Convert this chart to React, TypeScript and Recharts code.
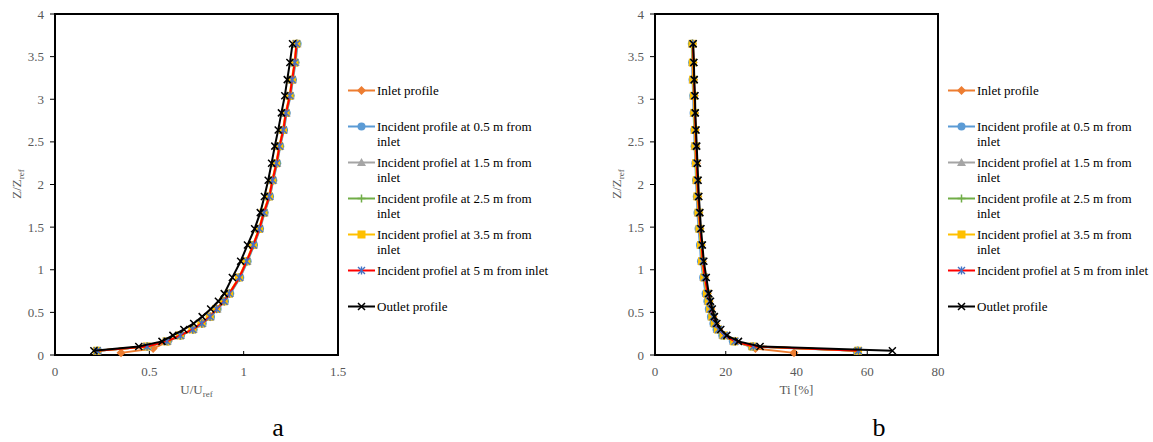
import React from "react";
import {
    ScatterChart,
    Scatter,
    XAxis,
    YAxis,
    ReferenceArea,
    Legend,
} from "recharts";

// heights Z/Zref shared by the incident and outlet profiles
const Z_LEVELS = [0.05, 0.10, 0.16, 0.23, 0.30, 0.37, 0.45, 0.54, 0.63, 0.72, 0.91, 1.10, 1.29, 1.48, 1.67, 1.86, 2.05, 2.25, 2.45, 2.64, 2.84, 3.04, 3.23, 3.43, 3.65];
const INLET_Z = [0.025, 0.075, 0.16, 0.23, 0.30, 0.37, 0.45, 0.54, 0.63, 0.72, 0.91, 1.10, 1.29, 1.48, 1.67, 1.86, 2.05, 2.25, 2.45, 2.64, 2.84, 3.04, 3.23, 3.43, 3.65];

// chart a: U/Uref
const U_INLET = [0.35, 0.52, 0.600, 0.666, 0.731, 0.779, 0.823, 0.858, 0.897, 0.925, 0.978, 1.017, 1.052, 1.084, 1.108, 1.137, 1.154, 1.175, 1.191, 1.211, 1.225, 1.246, 1.258, 1.272, 1.281];
const U_05 = [0.228, 0.492, 0.598, 0.668, 0.735, 0.783, 0.827, 0.862, 0.901, 0.929, 0.982, 1.021, 1.055, 1.087, 1.111, 1.140, 1.157, 1.178, 1.194, 1.214, 1.228, 1.249, 1.261, 1.275, 1.286];
const U_15 = [0.226, 0.490, 0.595, 0.666, 0.732, 0.780, 0.824, 0.859, 0.898, 0.926, 0.979, 1.018, 1.053, 1.085, 1.109, 1.138, 1.155, 1.176, 1.192, 1.212, 1.226, 1.247, 1.259, 1.273, 1.283];
const U_25 = [0.225, 0.489, 0.594, 0.665, 0.731, 0.779, 0.823, 0.858, 0.897, 0.925, 0.978, 1.017, 1.052, 1.084, 1.108, 1.137, 1.154, 1.175, 1.191, 1.211, 1.225, 1.246, 1.258, 1.272, 1.282];
const U_35 = [0.222, 0.486, 0.591, 0.662, 0.728, 0.776, 0.820, 0.855, 0.894, 0.922, 0.975, 1.014, 1.049, 1.081, 1.105, 1.134, 1.151, 1.172, 1.188, 1.208, 1.222, 1.243, 1.255, 1.269, 1.279];
const U_5 = [0.224, 0.488, 0.593, 0.664, 0.730, 0.778, 0.822, 0.857, 0.896, 0.924, 0.977, 1.016, 1.051, 1.083, 1.107, 1.136, 1.153, 1.174, 1.190, 1.210, 1.224, 1.245, 1.257, 1.271, 1.280];
const U_OUT = [0.206, 0.444, 0.567, 0.625, 0.683, 0.735, 0.780, 0.825, 0.866, 0.897, 0.940, 0.984, 1.020, 1.058, 1.088, 1.110, 1.130, 1.148, 1.165, 1.183, 1.200, 1.218, 1.231, 1.245, 1.259];

// chart b: Ti [%]
const TI_INLET = [39.3, 28.4, 22.6, 19.6, 18.0, 17.1, 16.4, 15.8, 15.3, 14.8, 14.0, 13.4, 13.1, 12.7, 12.4, 12.1, 11.9, 11.7, 11.5, 11.4, 11.2, 11.1, 10.9, 10.8, 10.6];
const TI_05 = [57.0, 27.3, 22.0, 19.0, 17.4, 16.5, 15.8, 15.2, 14.8, 14.3, 13.6, 13.0, 12.7, 12.3, 12.0, 11.8, 11.6, 11.4, 11.2, 11.1, 10.9, 10.8, 10.6, 10.5, 10.4];
const TI_15 = [57.2, 27.5, 22.2, 19.2, 17.6, 16.7, 16.0, 15.4, 15.0, 14.5, 13.8, 13.2, 12.9, 12.5, 12.2, 11.9, 11.7, 11.5, 11.3, 11.2, 11.0, 10.9, 10.7, 10.6, 10.5];
const TI_25 = [57.3, 27.6, 22.3, 19.3, 17.7, 16.8, 16.1, 15.5, 15.1, 14.6, 13.9, 13.3, 13.0, 12.6, 12.3, 12.0, 11.8, 11.6, 11.4, 11.3, 11.1, 11.0, 10.8, 10.7, 10.5];
const TI_35 = [57.4, 27.6, 22.4, 19.4, 17.8, 16.9, 16.2, 15.6, 15.2, 14.7, 13.9, 13.3, 13.0, 12.6, 12.3, 12.0, 11.8, 11.6, 11.4, 11.3, 11.1, 11.0, 10.8, 10.7, 10.6];
const TI_5 = [57.5, 27.8, 22.6, 19.6, 18.0, 17.1, 16.4, 15.8, 15.4, 14.9, 14.1, 13.5, 13.2, 12.8, 12.5, 12.2, 12.0, 11.8, 11.6, 11.5, 11.3, 11.2, 11.0, 10.9, 10.7];
const TI_OUT = [67.1, 29.7, 23.6, 20.3, 18.6, 17.5, 16.8, 16.2, 15.7, 15.2, 14.5, 13.8, 13.4, 13.0, 12.7, 12.4, 12.2, 12.0, 11.8, 11.6, 11.4, 11.3, 11.1, 11.0, 10.8];

const Y_TICKS = [0, 0.5, 1, 1.5, 2, 2.5, 3, 3.5, 4];
const U_TICKS = [0, 0.5, 1, 1.5];
const TI_TICKS = [0, 20, 40, 60, 80];

const SERIES_NAMES = [
    "Inlet profile",
    "Incident profile at 0.5 m from inlet",
    "Incident profiel at 1.5 m from inlet",
    "Incident profile at 2.5 m from inlet",
    "Incident profiel at 3.5 m from inlet",
    "Incident profiel at 5 m from inlet",
    "Outlet profile",
];
const LEGEND_LINES = [
    ["Inlet profile"],
    ["Incident profile at 0.5 m from", "inlet"],
    ["Incident profiel at 1.5 m from", "inlet"],
    ["Incident profile at 2.5 m from", "inlet"],
    ["Incident profiel at 3.5 m from", "inlet"],
    ["Incident profiel at 5 m from inlet"],
    ["Outlet profile"],
];

const STYLES = [
    { color: "#ED7D31", marker: "diamond", markerColor: "#ED7D31" },
    { color: "#5B9BD5", marker: "circle", markerColor: "#5B9BD5" },
    { color: "#A5A5A5", marker: "triangle", markerColor: "#A5A5A5" },
    { color: "#70AD47", marker: "plus", markerColor: "#70AD47" },
    { color: "#FFC000", marker: "square", markerColor: "#FFC000" },
    { color: "#FF0000", marker: "star", markerColor: "#4472C4" },
    { color: "#000000", marker: "cross", markerColor: "#000000" },
];

const FONT = "'Liberation Serif', 'Times New Roman', serif";
const TICK_COLOR = "#595959";
const PLOT_BOTTOM = 355;
const textStyle = { fontFamily: FONT, fontSize: 13 };

function drawMarker(kind: string, cx: number, cy: number, color: string) {
    switch (kind) {
        case "diamond":
            return <polygon points={`${cx},${cy - 4.5} ${cx + 4.5},${cy} ${cx},${cy + 4.5} ${cx - 4.5},${cy}`} fill={color} />;
        case "circle":
            return <circle cx={cx} cy={cy} r={4} fill={color} />;
        case "triangle":
            return <polygon points={`${cx},${cy - 4.5} ${cx + 4.5},${cy + 3.5} ${cx - 4.5},${cy + 3.5}`} fill={color} />;
        case "plus":
            return <path d={`M${cx - 4},${cy}h8M${cx},${cy - 4}v8`} stroke={color} strokeWidth={1.5} />;
        case "square":
            return <rect x={cx - 4} y={cy - 4} width={8} height={8} fill={color} />;
        case "star":
            return <path d={`M${cx - 3.5},${cy - 3.5}L${cx + 3.5},${cy + 3.5}M${cx + 3.5},${cy - 3.5}L${cx - 3.5},${cy + 3.5}M${cx},${cy - 4}v8`} stroke={color} strokeWidth={1.4} />;
        default:
            return <path d={`M${cx - 3.5},${cy - 3.5}L${cx + 3.5},${cy + 3.5}M${cx + 3.5},${cy - 3.5}L${cx - 3.5},${cy + 3.5}`} stroke={color} strokeWidth={1.5} />;
    }
}

function toPoints(xs: number[], zs: number[]) {
    return xs.map((v, i) => ({ x: v, z: zs[i] }));
}

const XTick = (props: any) => {
    const { x, payload } = props;
    return (
        <g>
            <line x1={x} x2={x} y1={PLOT_BOTTOM} y2={PLOT_BOTTOM - 4} stroke="#000" />
            <text x={x} y={PLOT_BOTTOM + 21} textAnchor="middle" fill={TICK_COLOR} style={textStyle}>
                {payload.value}
            </text>
        </g>
    );
};

const YTick = (props: any) => {
    const { y, payload } = props;
    return (
        <text x={44} y={y + 4.5} textAnchor="end" fill={TICK_COLOR} style={textStyle}>
            {payload.value}
        </text>
    );
};

function LegendBlock() {
    return (
        <div style={{ fontFamily: FONT, fontSize: 13, lineHeight: "15px", color: "#000" }}>
            {SERIES_NAMES.map((name, i) => (
                <div key={name} style={{ display: "flex", height: 36 }}>
                    <svg width={28} height={15} style={{ flex: "none" }}>
                        <line x1={0} x2={27} y1={7.5} y2={7.5} stroke={STYLES[i].color} strokeWidth={2} />
                        {drawMarker(STYLES[i].marker, 13.5, 7.5, STYLES[i].markerColor)}
                    </svg>
                    <div style={{ marginLeft: 1, whiteSpace: "nowrap" }}>
                        {LEGEND_LINES[i].map((l) => (
                            <div key={l}>{l}</div>
                        ))}
                    </div>
                </div>
            ))}
        </div>
    );
}

interface PanelProps {
    width: number;
    series: { x: number; z: number }[][];
    xTicks: number[];
    xMax: number;
    xLabel: React.ReactNode;
}

function ProfilePanel({ width, series, xTicks, xMax, xLabel }: PanelProps) {
    return (
        <ScatterChart
            width={width}
            height={442}
            margin={{ top: 14, right: width - 338, left: 25, bottom: 52 }}
        >
            <XAxis
                type="number"
                dataKey="x"
                domain={[0, xMax]}
                ticks={xTicks}
                height={35}
                axisLine={{ stroke: "#000", strokeWidth: 2 }}
                tickLine={false}
                tick={<XTick />}
                label={{
                    content: (p: any) => (
                        <text x={p.viewBox.x + p.viewBox.width / 2} y={394} textAnchor="middle" fill={TICK_COLOR} style={textStyle}>
                            {xLabel}
                        </text>
                    ),
                }}
            />
            <YAxis
                type="number"
                dataKey="z"
                domain={[0, 4]}
                ticks={Y_TICKS}
                width={30}
                axisLine={{ stroke: "#000", strokeWidth: 2 }}
                tickLine={{ stroke: "#000" }}
                tickSize={5}
                tickMargin={6}
                tick={<YTick />}
                label={{
                    content: () => (
                        <text transform="translate(21,184) rotate(-90)" textAnchor="middle" fill={TICK_COLOR} style={textStyle}>
                            Z/Z<tspan style={{ fontSize: 9 }} dy={3}>ref</tspan>
                        </text>
                    ),
                }}
            />
            <ReferenceArea x1={0} x2={xMax} y1={0} y2={4} fill="none" stroke="#000" strokeWidth={2} />
            {series.map((pts, i) => (
                <Scatter
                    key={SERIES_NAMES[i]}
                    name={SERIES_NAMES[i]}
                    data={pts}
                    fill={STYLES[i].markerColor}
                    line={{ stroke: STYLES[i].color, strokeWidth: 2 }}
                    lineType="joint"
                    shape={(p: any) => drawMarker(STYLES[i].marker, p.cx, p.cy, STYLES[i].markerColor)}
                    isAnimationActive={false}
                />
            ))}
            <Legend
                layout="horizontal"
                verticalAlign="middle"
                align="center"
                wrapperStyle={{ left: 348, top: 83, width: 200 }}
                content={() => <LegendBlock />}
            />
        </ScatterChart>
    );
}

export default function App() {
    const seriesA = [
        toPoints(U_INLET, INLET_Z),
        toPoints(U_05, Z_LEVELS),
        toPoints(U_15, Z_LEVELS),
        toPoints(U_25, Z_LEVELS),
        toPoints(U_35, Z_LEVELS),
        toPoints(U_5, Z_LEVELS),
        toPoints(U_OUT, Z_LEVELS),
    ];
    const seriesB = [
        toPoints(TI_INLET, INLET_Z),
        toPoints(TI_05, Z_LEVELS),
        toPoints(TI_15, Z_LEVELS),
        toPoints(TI_25, Z_LEVELS),
        toPoints(TI_35, Z_LEVELS),
        toPoints(TI_5, Z_LEVELS),
        toPoints(TI_OUT, Z_LEVELS),
    ];

    const capStyle: React.CSSProperties = {
        position: "absolute",
        top: 415,
        fontFamily: FONT,
        fontSize: 26,
        lineHeight: "26px",
        color: "#000",
        transform: "translateX(-50%)",
    };

    return (
        <div style={{ position: "absolute", left: 0, top: 0, width: 1153, height: 442, background: "#fff" }}>
            <div style={{ position: "absolute", left: 0, top: 0 }}>
                <ProfilePanel
                    width={600}
                    series={seriesA}
                    xTicks={U_TICKS}
                    xMax={1.5}
                    xLabel={<>U/U<tspan style={{ fontSize: 9 }} dy={3}>ref</tspan></>}
                />
            </div>
            <div style={{ position: "absolute", left: 600, top: 0 }}>
                <ProfilePanel
                    width={553}
                    series={seriesB}
                    xTicks={TI_TICKS}
                    xMax={80}
                    xLabel="Ti [%]"
                />
            </div>
            <div style={{ ...capStyle, left: 278 }}>a</div>
            <div style={{ ...capStyle, left: 879 }}>b</div>
        </div>
    );
}
